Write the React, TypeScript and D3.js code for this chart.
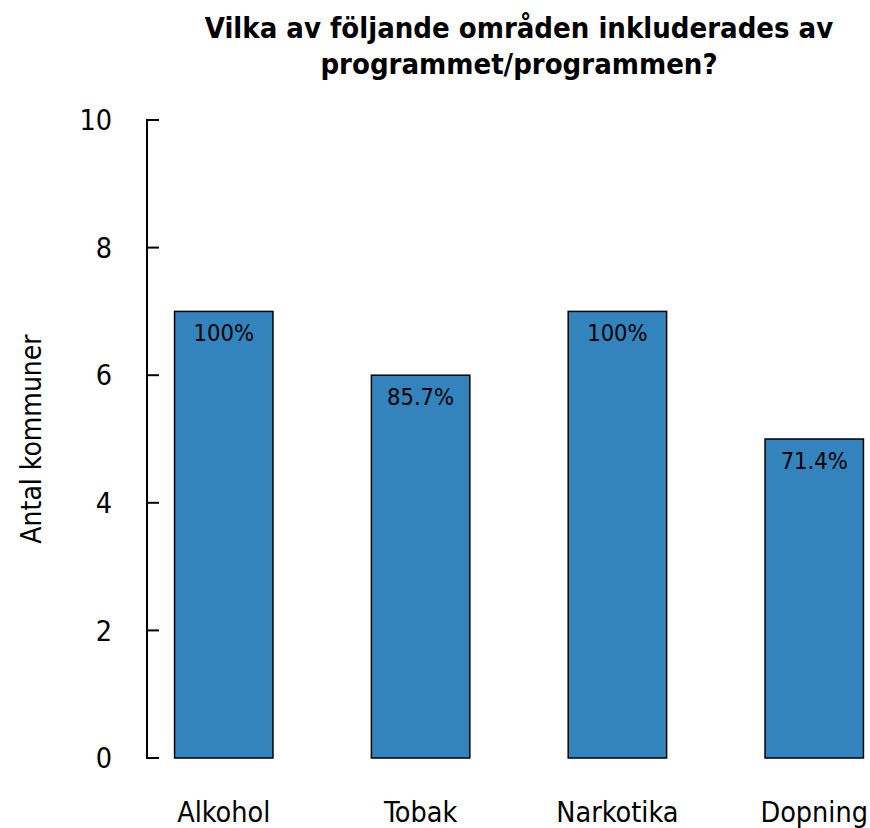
import React, { useEffect, useRef } from "react";
import * as d3 from "d3";

const categories = ["Alkohol", "Tobak", "Narkotika", "Dopning"];
const counts = [7, 6, 7, 5];
const percentLabels = ["100%", "85.7%", "100%", "71.4%"];
const yTicks = [0, 2, 4, 6, 8, 10];
const titleLines = ["Vilka av följande områden inkluderades av", "programmet/programmen?"];
const yLabel = "Antal kommuner";

const W = 870;
const H = 828;
const FONT = "'DejaVu Sans Condensed', 'DejaVu Sans', sans-serif";

export default function App() {
  const ref = useRef<SVGSVGElement>(null);

  useEffect(() => {
    const svg = d3.select(ref.current);
    svg.selectAll("*").remove();

    const axisX = 147;
    const y = d3.scaleLinear().domain([0, 10]).range([758, 120]);
    const x = d3
      .scaleBand<string>()
      .domain(categories)
      .range([147, 891])
      .paddingInner(0.5)
      .paddingOuter(0.14);

    // Title
    const title = svg
      .append("text")
      .attr("x", 519)
      .attr("text-anchor", "middle")
      .attr("font-family", FONT)
      .attr("font-weight", "bold")
      .attr("font-size", 29)
      .attr("fill", "#000");
    titleLines.forEach((line, i) => {
      title.append("tspan").attr("x", 519).attr("y", 38 + i * 36).text(line);
    });

    // Bars
    svg
      .append("g")
      .selectAll("rect")
      .data(categories)
      .join("rect")
      .attr("x", (d) => x(d)!)
      .attr("y", (_, i) => y(counts[i]))
      .attr("width", x.bandwidth())
      .attr("height", (_, i) => y(0) - y(counts[i]))
      .attr("fill", "#3383bc")
      .attr("stroke", "#000")
      .attr("stroke-width", 1.5);

    // Percent labels
    svg
      .append("g")
      .selectAll("text")
      .data(categories)
      .join("text")
      .attr("x", (d) => x(d)! + x.bandwidth() / 2)
      .attr("y", (_, i) => y(counts[i]) + 30)
      .attr("text-anchor", "middle")
      .attr("font-family", FONT)
      .attr("font-size", 23.5)
      .attr("fill", "#000")
      .text((_, i) => percentLabels[i]);

    // Y axis
    const ax = svg.append("g");
    ax.append("line")
      .attr("x1", axisX)
      .attr("x2", axisX)
      .attr("y1", y(10))
      .attr("y2", y(0))
      .attr("stroke", "#000")
      .attr("stroke-width", 2);
    ax.selectAll("line.tick")
      .data(yTicks)
      .join("line")
      .attr("class", "tick")
      .attr("x1", axisX - 1)
      .attr("x2", axisX + 12)
      .attr("y1", (d) => y(d))
      .attr("y2", (d) => y(d))
      .attr("stroke", "#000")
      .attr("stroke-width", 2);
    ax.selectAll("text")
      .data(yTicks)
      .join("text")
      .attr("x", 112)
      .attr("y", (d) => y(d))
      .attr("dy", "0.36em")
      .attr("text-anchor", "end")
      .attr("font-family", FONT)
      .attr("font-size", 28.5)
      .attr("fill", "#000")
      .text((d) => String(d));

    // Category labels
    svg
      .append("g")
      .selectAll("text")
      .data(categories)
      .join("text")
      .attr("x", (d) => x(d)! + x.bandwidth() / 2)
      .attr("y", 822)
      .attr("text-anchor", "middle")
      .attr("font-family", FONT)
      .attr("font-size", 28.5)
      .attr("fill", "#000")
      .text((d) => d);

    // Y label
    svg
      .append("text")
      .attr("transform", `translate(41, ${(y(0) + y(10)) / 2}) rotate(-90)`)
      .attr("text-anchor", "middle")
      .attr("font-family", FONT)
      .attr("font-size", 28)
      .attr("fill", "#000")
      .text(yLabel);
  }, []);

  return (
    <svg
      ref={ref}
      width={W}
      height={H}
      style={{ position: "absolute", left: 0, top: 0, background: "#fff" }}
    />
  );
}
